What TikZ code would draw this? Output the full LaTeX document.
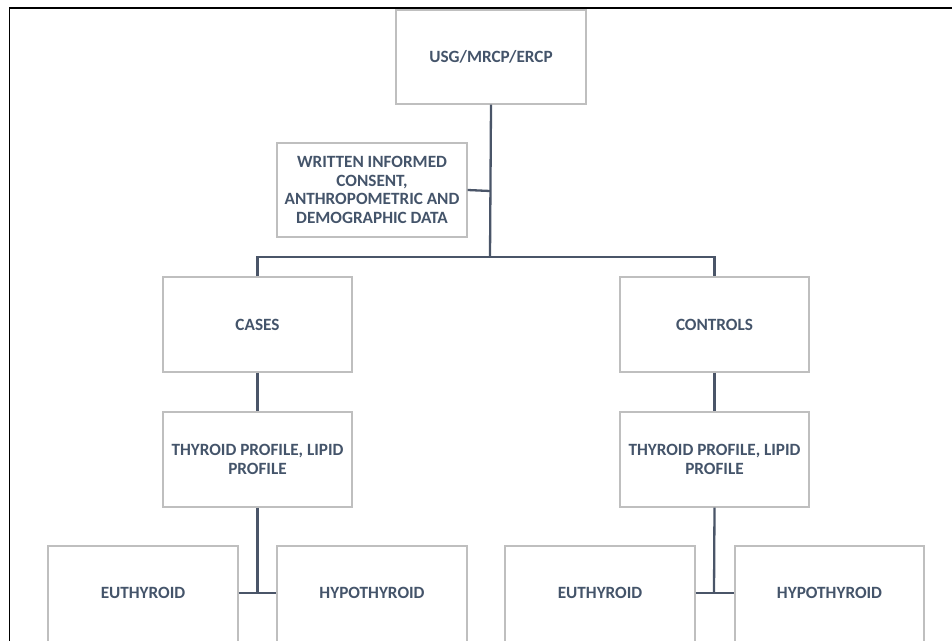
\documentclass[tikz,border=0pt]{standalone}
\usepackage{fontspec}
\setmainfont{Carlito}
\definecolor{txt}{HTML}{44546A}
\definecolor{bordr}{HTML}{BFBFBF}
\definecolor{conn}{HTML}{4A5568}
\begin{document}
\begin{tikzpicture}[x=1pt,y=-1pt,
  box/.style={draw=bordr,line width=1.3pt,fill=white,rectangle,inner sep=0pt,
    text=txt,font=\fontsize{17.2}{18.4}\selectfont\bfseries,align=center},
  lbl/.style={text=txt,font=\fontsize{17.2}{18.4}\selectfont\bfseries},
  conline/.style={draw=conn,line width=2.3pt}]
\useasboundingbox (0,0) rectangle (952,640);
\begin{scope}
\clip (0,0) rectangle (952,640);
% frame
\draw[black,line width=1.6pt] (9.5,660) -- (9.5,8) -- (960,8);
% boxes (corners)
\newcommand{\bx}[6]{\node[box,minimum width=#4-#2,minimum height=#5-#3] (#1) at ({(#2+#4)/2},{(#3+#5)/2}) {#6};}
\bx{usg}{396}{10}{586}{104}{USG/MRCP/ERCP}
\bx{cons}{277}{143}{467}{237}{WRITTEN INFORMED\\CONSENT,\\ANTHROPOMETRIC AND\\DEMOGRAPHIC DATA}
\bx{cases}{163}{277}{352}{372}{CASES}
\bx{ctrl}{620}{277}{809}{372}{CONTROLS}
\bx{tpa}{163}{412}{352}{507}{THYROID PROFILE, LIPID\\PROFILE}
\bx{tpb}{620}{412}{809}{507}{THYROID PROFILE, LIPID\\PROFILE}
% bottom boxes extend beyond the page
\bx{eua}{48}{546}{238}{666}{}
\bx{hya}{277}{546}{467}{666}{}
\bx{eub}{505}{546}{695}{666}{}
\bx{hyb}{735}{546}{924}{666}{}
\node[lbl] (euat) at (143,593) {EUTHYROID};
\node[lbl] (hyat) at (372,593) {HYPOTHYROID};
\node[lbl] (eubt) at (600,593) {EUTHYROID};
\node[lbl] (hybt) at (829.5,593) {HYPOTHYROID};
% connectors
\coordinate (trunk) at (490,257);
\coordinate (cj) at (490,191);
\draw[conline] (usg.south) -- (trunk);
\draw[conline] (cons.east) -- (cj);
\draw[conline] (cases.north) |- (trunk) -| (ctrl.north);
\draw[conline] (cases.south) -- (tpa.north);
\draw[conline] (ctrl.south) -- (tpb.north);
\coordinate (ja) at (257.5,593);
\coordinate (jb) at (714,593);
\draw[conline] (tpa.south) -- (ja);
\draw[conline] (eua.east |- ja) -- (hya.west |- ja);
\draw[conline] (tpb.south) -- (jb);
\draw[conline] (eub.east |- jb) -- (hyb.west |- jb);
\end{scope}
\end{tikzpicture}
\end{document}
